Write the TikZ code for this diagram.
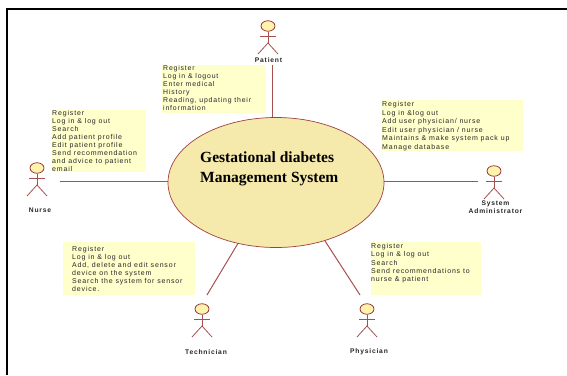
\documentclass[tikz,border=0pt]{standalone}
\usepackage{fontspec}
\setmainfont{Liberation Serif}
\newfontfamily\notefont[LetterSpace=12]{Liberation Sans}
\definecolor{umlline}{HTML}{A85050}
\definecolor{umlhead}{HTML}{8E1F1F}
\definecolor{notefill}{HTML}{FFFFCC}
\definecolor{ellfill}{HTML}{F5E9AB}
\definecolor{headfill}{HTML}{FFF3AE}
\usetikzlibrary{shapes.geometric}
\tikzset{
  x=1pt,y=-1pt,
  notetext/.style={anchor=north west,inner sep=0pt,align=left,font=\notefont\fontsize{7}{#1}\selectfont,text=black!85},
  notetext/.default=8,
  actorname/.style={inner sep=0pt,align=center,font=\notefont\bfseries\fontsize{6.7}{8}\selectfont,text=black!85},
  assoc/.style={draw=umlline,line width=1pt},
  limb/.style={draw=umlline,line width=0.8pt},
  actorhead/.style={draw=umlhead,fill=headfill,line width=0.7pt,ellipse,minimum width=14pt,minimum height=10.5pt,inner sep=0pt},
  frameline/.style={line width=1.6pt,draw=black}
}
\newcommand{\actorfig}[3]{%
  \node[actorhead] (#1head) at (#2,#3) {};
  \coordinate (#1hip) at (#2,#3+17);
  \coordinate (#1la) at (#2-8,#3+10);
  \coordinate (#1ra) at (#2+8,#3+10);
  \coordinate (#1ll) at (#2-10,#3+28);
  \coordinate (#1rl) at (#2+10,#3+28);
  \draw[limb] (#1head.south) -- (#1hip);
  \draw[limb] (#1la) -- (#1ra);
  \draw[limb] (#1ll) -- (#1hip) -- (#1rl);
}
\begin{document}
\begin{tikzpicture}
\useasboundingbox (0,0) rectangle (567,375);
\fill[white] (0,0) rectangle (567,375);
\coordinate (fa) at (7,375);
\coordinate (fb) at (7,9);
\coordinate (fc) at (567,9);
\draw[frameline] (fa) -- (fb) -- (fc);

% notes
\fill[notefill] (162,65) rectangle (266,113);
\node[notetext,font=\notefont\fontsize{6.9}{8}\selectfont] (npatient) at (163,65.5) {Register\\Log in \& logout\\Enter medical\\History\\Reading, updating their\\information};
\fill[notefill] (52,110) rectangle (146,172);
\node[notetext] (nnurse) at (52,110) {Register\\Log in \& log out\\Search\\Add patient profile\\Edit patient profile\\Send recommendation\\and advice to patient\\email};
\fill[notefill] (382,100) rectangle (523,151);
\node[notetext=8.5] (nadmin) at (382,101.5) {Register\\Log in \&log out\\Add user physician/ nurse\\Edit user physician / nurse\\Maintains \& make system pack up\\Manage database};
\fill[notefill] (63,242) rectangle (195,295);
\node[notetext] (ntech) at (72,246.5) {Register\\Log in \& log out\\Add, delete and edit sensor\\device on the system\\Search the system for sensor\\device.};
\fill[notefill] (371,242) rectangle (481,295);
\node[notetext=8.4] (nphys) at (371,243) {Register\\Log in \& log out\\Search\\Send recommendations to\\nurse \& patient};

% system
\node[ellipse,draw=umlhead!85!white,fill=ellfill,line width=0.7pt,minimum width=216pt,minimum height=130pt,inner sep=0pt] (sys) at (276,182.5) {};
\node[anchor=west,inner sep=0pt,align=left,font=\bfseries\fontsize{15.5}{19.5}\selectfont] (title) at (200,169) {Gestational diabetes\\Management System};

% actors
\actorfig{patient}{268}{26}
\actorfig{nurse}{37}{168}
\actorfig{admin}{494}{171}
\actorfig{tech}{202}{309}
\actorfig{phys}{367}{309}

\node[actorname] (lpatient) at (268.5,60) {Patient};
\node[actorname] (lnurse) at (40,210.5) {Nurse};
\node[actorname] (ladmin) at (495.5,207) {System\\Administrator};
\node[actorname] (ltech) at (206,352) {Technician};
\node[actorname] (lphys) at (369,352) {Physician};

% connector ends
\coordinate (epatient) at (272,65);
\coordinate (enurse) at (60,181);
\coordinate (eadmin) at (478,181);
\coordinate (etech) at (207,295);
\coordinate (ephys) at (360,295);

\draw[assoc] (epatient) -- (sys.north -| epatient);
\draw[assoc] (enurse) -- (sys.west |- enurse);
\draw[assoc] (eadmin) -- (sys.east |- eadmin);
\draw[assoc] (etech) -- (sys.238);
\draw[assoc] (ephys) -- (sys.310);
\end{tikzpicture}
\end{document}
